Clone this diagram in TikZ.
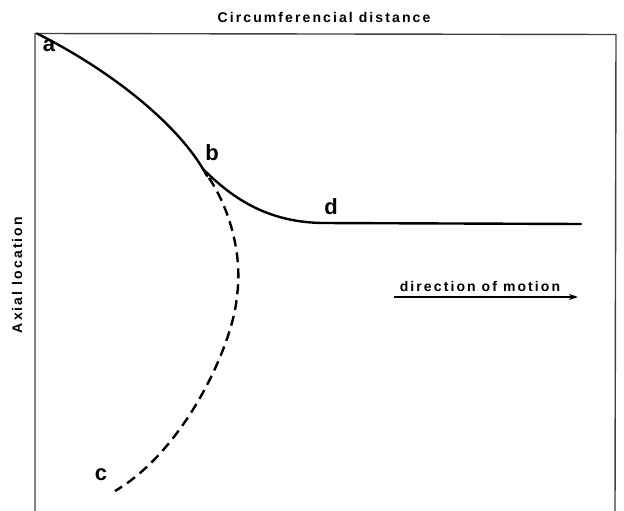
\documentclass[tikz,border=0pt]{standalone}
\usepackage{fontspec}
\setmainfont{Liberation Sans}
\newfontfamily\lettering[LetterSpace=15]{Liberation Sans}
\usetikzlibrary{arrows.meta}
\tikzset{
  frameline/.style={line width=1.4pt, draw=black!75},
  curveline/.style={line width=2.4pt, line cap=round},
  dashline/.style={line width=2.4pt, dash pattern=on 10pt off 6pt},
  ptlabel/.style={font=\fontsize{22}{22}\selectfont\bfseries, inner sep=0pt},
  axistext/.style={font=\lettering\bfseries\fontsize{14}{14}\selectfont, inner sep=0pt},
}
\begin{document}
\begin{tikzpicture}[x=1pt,y=-1pt]
\useasboundingbox (0,0) rectangle (624,511);
% frame
\coordinate (bl) at (35,511);
\coordinate (tl) at (35,33.5);
\coordinate (tr) at (616,34.5);
\coordinate (br) at (615,511);
\draw[frameline] (bl) -- (tl) -- (tr) -- (br);
% titles
\node[axistext] (title) at (324,17) {Circumferencial distance};
\node[axistext, rotate=90] (axial) at (17,275) {Axial location};
% points
\coordinate (pa) at (37,33.5);
\coordinate (pb) at (207,176);
\coordinate (pb2) at (203,169);
\coordinate (pd) at (322,223);
\coordinate (pe) at (581,224);
\coordinate (pbd) at (209,178);
\coordinate (pm) at (237,296);
\coordinate (pc) at (115,491);
% solid curve
\draw[curveline] (pa) .. controls (110,70) and (180,125) .. (pb);
\draw[curveline] (pb2) .. controls (235,201) and (270,222) .. (pd) -- (pe);
% dashed curve
\draw[dashline] (pbd) .. controls (228,206) and (243,252) .. (pm)
  .. controls (233,345) and (185,450) .. (pc);
% labels
\node[ptlabel] (la) at (49,46) {a};
\node[ptlabel] (lb) at (212,153) {b};
\node[ptlabel] (lc) at (101,475) {c};
\node[ptlabel] (ld) at (331,207) {d};
% direction of motion
\node[axistext] (dir) at (480,286) {direction of motion};
\coordinate (ar0) at (394,297);
\coordinate (ar1) at (578,297);
\draw[line width=1.5pt, -{Stealth[length=9pt,width=6pt]}] (ar0) -- (ar1);
\end{tikzpicture}
\end{document}
